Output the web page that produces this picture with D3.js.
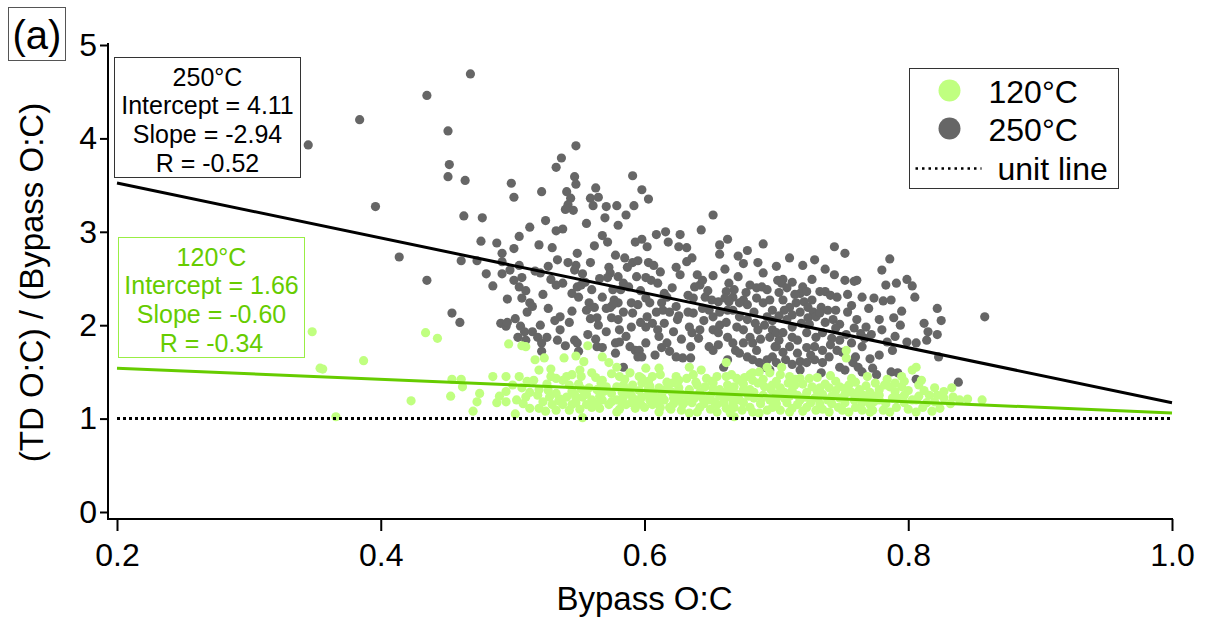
<!DOCTYPE html>
<html>
<head>
<meta charset="utf-8">
<script src="https://cdn.jsdelivr.net/npm/d3@7"></script>
<style>
  body { margin: 0; background: #fff; }
  text { font-family: "Liberation Sans", Arial, sans-serif; }
</style>
</head>
<body>
<div id="vis-container"></div>
<script>
// ticks
const xTicks = [0.2, 0.4, 0.6, 0.8, 1.0];
const yTicks = [0, 1, 2, 3, 4, 5];

// series names + fit results (as printed in the boxes)
const seriesNames = ["120°C", "250°C"];
const intercepts = [1.66, 4.11];
const slopes = [-0.60, -2.94];
const rValues = [-0.34, -0.52];
const unitValue = 1;

// 250°C points [bypass O:C, ratio]
const pts250 = [
  [0.468,4.69],[0.435,4.46],[0.384,4.20],[0.345,3.93],[0.451,4.08],[0.452,3.72],[0.451,3.59],[0.464,3.55],
  [0.396,3.27],[0.463,3.17],[0.414,2.73],[0.461,2.69],[0.473,2.69],[0.435,2.48],[0.454,2.13],[0.460,2.03],
  [0.548,3.92],[0.537,3.79],[0.533,3.69],[0.547,3.59],[0.548,3.51],[0.499,3.52],[0.501,3.37],[0.522,3.43],
  [0.541,3.43],[0.544,3.36],[0.542,3.29],[0.546,3.23],[0.540,3.24],[0.563,3.47],[0.559,3.36],[0.565,3.37],
  [0.561,3.28],[0.591,3.60],[0.598,3.45],[0.592,3.28],[0.571,3.27],[0.579,3.28],[0.570,3.15],[0.580,3.07],
  [0.477,3.15],[0.476,2.90],[0.533,3.01],[0.538,3.03],[0.556,3.09],[0.568,2.96],[0.572,2.89],[0.520,2.86],
  [0.530,2.83],[0.501,2.82],[0.492,2.77],[0.492,2.68],[0.498,2.59],[0.492,2.55],[0.480,2.55],[0.485,2.42],
  [0.496,2.28],[0.505,2.64],[0.501,2.48],[0.505,2.41],[0.507,2.51],[0.527,2.63],[0.521,2.56],[0.542,2.67],
  [0.548,2.64],[0.547,2.59],[0.533,2.43],[0.538,2.45],[0.523,2.33],[0.510,2.37],[0.513,2.24],[0.507,2.29],
  [0.511,2.14],[0.502,2.07],[0.491,2.02],[0.495,1.99],[0.496,2.03],[0.506,1.99],[0.509,1.93],[0.515,1.93],
  [0.521,2.00],[0.504,1.87],[0.510,1.84],[0.519,1.87],[0.526,1.87],[0.522,1.81],[0.522,1.72],[0.536,2.09],
  [0.543,2.03],[0.545,2.15],[0.545,2.34],[0.549,2.41],[0.550,2.30],[0.552,2.43],[0.559,2.67],[0.555,2.46],
  [0.560,2.38],[0.558,2.24],[0.556,2.16],[0.562,2.19],[0.547,1.84],[0.549,1.81],[0.550,1.72],[0.564,1.77],
  [0.568,1.76],[0.578,2.75],[0.573,2.62],[0.574,2.56],[0.580,2.52],[0.572,2.51],[0.593,2.89],[0.598,2.92],
  [0.602,2.84],[0.587,2.62],[0.591,2.67],[0.595,2.69],[0.584,2.45],[0.588,2.41],[0.582,2.38],[0.576,2.38],
  [0.577,2.27],[0.580,2.24],[0.571,2.18],[0.574,2.19],[0.576,2.22],[0.559,2.07],[0.564,2.08],[0.575,2.08],
  [0.580,2.06],[0.584,2.14],[0.581,1.95],[0.578,1.81],[0.581,1.82],[0.578,1.70],[0.584,1.55],[0.589,1.77],
  [0.593,1.73],[0.596,1.73],[0.595,1.66],[0.590,2.24],[0.591,2.13],[0.595,2.22],[0.601,2.29],[0.601,2.51],
  [0.605,2.48],[0.610,2.45],[0.603,2.67],[0.607,2.64],[0.609,2.97],[0.618,2.89],[0.627,2.97],[0.626,2.84],
  [0.632,2.83],[0.636,2.72],[0.632,2.68],[0.624,2.62],[0.627,2.54],[0.615,2.34],[0.613,2.24],[0.609,2.14],
  [0.614,2.16],[0.604,2.24],[0.602,2.09],[0.601,1.98],[0.606,2.02],[0.610,1.95],[0.615,2.02],[0.619,2.14],
  [0.613,1.76],[0.617,1.81],[0.601,1.81],[0.598,1.66],[0.624,1.66],[0.629,1.65],[0.635,1.65],[0.625,2.06],
  [0.634,1.98],[0.636,1.92],[0.633,2.14],[0.637,2.13],[0.638,2.41],[0.642,2.43],[0.644,2.48],[0.643,3.02],
  [0.652,3.18],[0.640,2.54],[0.633,2.32],[0.637,2.29],[0.646,2.30],[0.657,2.86],[0.657,2.76],[0.651,2.27],
  [0.656,2.25],[0.662,2.36],[0.661,2.29],[0.649,2.16],[0.652,2.09],[0.657,2.14],[0.663,2.16],[0.652,1.95],
  [0.656,1.92],[0.657,2.00],[0.662,2.03],[0.649,1.77],[0.652,1.73],[0.656,1.79],[0.660,1.55],[0.663,1.63],
  [0.669,1.73],[0.671,2.74],[0.675,2.66],[0.671,2.52],[0.680,2.43],[0.667,2.30],[0.675,2.27],[0.678,2.22],
  [0.672,2.24],[0.667,2.16],[0.672,2.09],[0.678,2.06],[0.670,1.98],[0.675,1.95],[0.680,1.87],[0.682,1.81],
  [0.675,1.81],[0.678,1.66],[0.682,1.63],[0.687,1.60],[0.691,1.55],[0.695,1.52],[0.686,2.67],[0.690,2.56],
  [0.690,2.87],[0.685,2.40],[0.689,2.41],[0.693,2.38],[0.685,2.29],[0.690,2.24],[0.695,2.27],[0.697,2.16],
  [0.693,2.09],[0.697,1.95],[0.695,1.87],[0.700,1.92],[0.699,1.77],[0.701,2.48],[0.697,1.66],[0.693,1.63],
  [0.700,1.60],
  [0.720,2.64],[0.737,2.60],[0.744,2.84],[0.752,2.77],[0.705,2.49],[0.712,2.46],[0.704,2.45],[0.727,2.49],
  [0.720,2.41],[0.718,2.34],[0.723,2.36],[0.733,2.36],[0.737,2.36],[0.741,2.32],[0.746,2.30],[0.754,2.33],
  [0.759,2.47],[0.761,2.48],[0.780,2.59],[0.786,2.71],[0.783,2.43],[0.791,2.45],[0.799,2.49],[0.803,2.42],
  [0.774,2.29],[0.781,2.26],[0.787,2.27],[0.705,2.27],[0.710,2.19],[0.715,2.24],[0.721,2.25],[0.727,2.27],
  [0.706,2.16],[0.712,2.11],[0.718,2.14],[0.724,2.19],[0.728,2.14],[0.734,2.19],[0.739,2.16],[0.745,2.16],
  [0.757,2.21],[0.754,2.14],[0.708,2.06],[0.712,1.98],[0.719,2.02],[0.724,2.08],[0.730,2.09],[0.737,2.03],
  [0.743,2.06],[0.748,2.01],[0.761,2.06],[0.759,1.97],[0.768,1.98],[0.778,2.06],[0.780,1.95],[0.705,1.92],
  [0.712,1.87],[0.716,1.84],[0.723,1.92],[0.730,1.87],[0.735,1.92],[0.742,1.86],[0.748,1.84],[0.700,1.77],
  [0.705,1.71],[0.710,1.77],[0.716,1.70],[0.723,1.76],[0.729,1.77],[0.735,1.73],[0.746,1.73],[0.750,1.71],
  [0.765,1.77],[0.778,1.68],[0.788,1.73],[0.799,1.82],[0.806,1.81],[0.812,2.02],[0.822,2.18],[0.825,2.05],
  [0.815,1.93],[0.822,1.90],[0.814,1.84],[0.823,1.66],[0.858,2.09],[0.718,1.61],[0.723,1.60],[0.729,1.63],
  [0.735,1.60],[0.718,1.52],[0.748,1.55],[0.752,1.52],[0.758,1.60],[0.762,1.55],[0.765,1.50],[0.773,1.54],
  [0.776,1.47],[0.787,1.50],[0.792,1.49],[0.806,1.42],[0.838,1.39],[0.734,1.49],
  [0.515,2.20],[0.527,2.18],[0.532,2.05],[0.536,1.95],[0.529,2.49],[0.517,2.58],[0.534,2.70],[0.549,2.77],
  [0.562,2.85],[0.553,2.55],[0.566,2.50],[0.568,2.30],[0.565,2.00],[0.571,1.93],[0.557,1.90],[0.563,1.85],
  [0.586,1.88],[0.590,1.98],[0.597,2.03],[0.597,2.37],[0.594,2.52],[0.585,2.72],[0.612,2.57],[0.617,2.30],
  [0.621,2.40],[0.624,2.20],[0.626,2.10],[0.622,1.93],[0.628,1.85],[0.619,1.72],[0.608,1.68],[0.635,1.77],
  [0.641,1.86],[0.645,2.05],[0.644,2.18],[0.648,2.37],[0.652,2.53],[0.661,2.60],[0.664,2.45],[0.668,2.38],
  [0.663,1.87],[0.667,1.81],[0.672,1.70],[0.685,1.73],[0.688,1.85],[0.686,1.95],[0.684,2.02],[0.683,2.14],
  [0.691,2.00],[0.697,2.05],[0.702,2.10],[0.702,2.35],[0.708,2.40],[0.714,2.33],[0.702,1.84],[0.707,1.63],
  [0.712,1.58],[0.726,1.68],[0.740,1.66],[0.741,1.79],[0.753,1.90],[0.757,1.81],[0.767,1.86],[0.772,1.90],
  [0.760,1.66],[0.771,1.64],[0.784,1.82],[0.790,1.88],[0.794,2.00],[0.770,2.18],[0.765,2.30],[0.795,2.15],
  [0.805,2.30],[0.752,2.48],[0.744,2.54],[0.729,2.70],[0.710,2.72],[0.700,2.63],[0.678,2.80],[0.663,2.92],
  [0.616,3.00],[0.586,3.18],[0.603,3.35],[0.525,3.12],[0.513,3.05],[0.505,2.95],[0.488,2.88],[0.540,1.78],
  [0.534,1.84],[0.611,1.88],[0.642,1.95],[0.664,2.25],[0.677,2.35],[0.725,2.01],[0.745,1.97],[0.733,2.13],
  [0.764,1.91],[0.789,2.08]
];

// 120°C points [bypass O:C, ratio]
const pts120 = [
  [0.348,1.93],[0.354,1.54],[0.356,1.53],[0.387,1.62],[0.366,1.02],[0.423,1.19],[0.434,1.92],[0.443,1.86],
  [0.454,1.42],[0.461,1.42],[0.462,1.34],[0.453,1.24],[0.475,1.27],[0.473,1.18],[0.470,1.08],
  [0.497,1.80],[0.507,1.78],[0.510,1.77],[0.517,1.63],[0.524,1.65],[0.539,1.65],[0.548,1.67],[0.557,1.78],
  [0.554,1.61],[0.568,1.66],[0.573,1.60],[0.579,1.55],[0.520,1.52],[0.529,1.53],[0.601,1.54],[0.611,1.54],
  [0.634,1.55],[0.643,1.52],[0.662,1.60],[0.687,1.50],[0.693,1.55],[0.704,1.55],[0.753,1.73],[0.753,1.65],
  [0.806,1.55],[0.803,1.52],[0.795,1.45],
  [0.485,1.45],[0.495,1.45],[0.505,1.45],[0.516,1.41],[0.529,1.45],[0.541,1.45],[0.551,1.52],[0.552,1.45],
  [0.560,1.49],[0.568,1.41],[0.581,1.45],[0.589,1.49],[0.596,1.45],[0.606,1.45],[0.598,1.43],[0.617,1.39],
  [0.621,1.38],[0.626,1.41],[0.632,1.43],[0.639,1.39],[0.647,1.43],[0.655,1.45],[0.662,1.45],[0.670,1.43],
  [0.680,1.47],[0.695,1.49],[0.703,1.47],[0.710,1.45],[0.718,1.43],[0.725,1.43],[0.672,1.41],[0.682,1.41],
  [0.682,1.49],
  [0.507,1.33],[0.513,1.28],[0.520,1.31],[0.533,1.27],[0.538,1.41],[0.543,1.36],[0.564,1.31],[0.571,1.34],
  [0.579,1.34],[0.586,1.31],[0.591,1.36],[0.598,1.38],[0.611,1.33],[0.634,1.31],[0.646,1.34],[0.657,1.31],
  [0.668,1.34],[0.680,1.31],[0.691,1.34],[0.703,1.33],[0.714,1.36],[0.727,1.34],[0.733,1.33],[0.740,1.33],
  [0.748,1.34],[0.755,1.36],[0.763,1.31],[0.771,1.28],[0.778,1.31],[0.786,1.34],[0.833,1.33],[0.606,1.28],
  [0.621,1.28],[0.642,1.28],[0.662,1.28],[0.683,1.28],[0.706,1.28],[0.723,1.28],
  [0.488,1.17],[0.495,1.18],[0.503,1.20],[0.528,1.23],[0.541,1.23],[0.548,1.22],[0.553,1.23],[0.560,1.20],
  [0.568,1.20],[0.579,1.20],[0.594,1.20],[0.598,1.23],[0.604,1.20],[0.615,1.20],[0.626,1.20],[0.638,1.22],
  [0.649,1.20],[0.661,1.22],[0.672,1.20],[0.683,1.22],[0.695,1.20],[0.706,1.22],[0.718,1.20],[0.729,1.22],
  [0.739,1.20],[0.748,1.22],[0.759,1.20],[0.769,1.22],[0.778,1.20],[0.788,1.22],[0.792,1.22],[0.806,1.20],
  [0.816,1.25],[0.822,1.25],[0.834,1.23],[0.839,1.20],[0.856,1.20],[0.803,1.20],[0.814,1.17],
  [0.513,1.11],[0.520,1.11],[0.530,1.15],[0.538,1.15],[0.545,1.15],[0.556,1.15],[0.573,1.15],[0.586,1.15],
  [0.600,1.12],[0.606,1.15],[0.619,1.12],[0.629,1.15],[0.642,1.12],[0.655,1.15],[0.668,1.12],[0.682,1.07],
  [0.693,1.09],[0.703,1.09],[0.712,1.11],[0.723,1.12],[0.730,1.09],[0.740,1.07],[0.750,1.09],[0.760,1.12],
  [0.771,1.15],[0.773,1.09],[0.781,1.09],[0.791,1.12],[0.811,1.12],[0.824,1.11],
  [0.502,1.05],[0.533,1.09],[0.543,1.09],[0.553,1.01],[0.579,1.07],[0.611,1.07],[0.634,1.06],[0.655,1.07],
  [0.665,1.06],[0.668,1.02],[0.687,1.06],[0.710,1.07],[0.755,1.07],[0.771,1.07],[0.806,1.07],
  [0.556,1.26],[0.575,1.27],[0.590,1.25],[0.613,1.25],[0.628,1.26],[0.650,1.25],[0.670,1.26],[0.690,1.25],
  [0.700,1.26],[0.716,1.25],[0.735,1.26],[0.752,1.26],[0.766,1.25],[0.745,1.40],[0.760,1.39],[0.775,1.38],
  [0.790,1.38],[0.800,1.30],[0.812,1.30],[0.783,1.16],[0.765,1.17],[0.733,1.16],[0.700,1.16],[0.660,1.17],
  [0.630,1.17],[0.590,1.17],[0.560,1.12],[0.620,1.10],[0.650,1.10],[0.680,1.12],
  [0.545,1.47],[0.563,1.44],[0.575,1.48],[0.585,1.42],[0.603,1.40],[0.612,1.47],[0.624,1.45],[0.637,1.47],
  [0.651,1.40],[0.666,1.47],[0.676,1.44],[0.690,1.42],[0.700,1.40],[0.714,1.42],[0.731,1.44],[0.741,1.46],
  [0.757,1.43],[0.769,1.45],[0.784,1.42],[0.797,1.40],[0.810,1.41],[0.533,1.43],[0.511,1.40],
  [0.500,1.36],[0.526,1.37],[0.550,1.37],[0.558,1.33],[0.567,1.38],[0.584,1.36],[0.604,1.35],[0.618,1.35],
  [0.626,1.33],[0.640,1.36],[0.652,1.38],[0.663,1.36],[0.675,1.37],[0.686,1.38],[0.697,1.36],[0.709,1.38],
  [0.720,1.37],[0.737,1.37],[0.752,1.32],[0.768,1.35],[0.782,1.36],[0.795,1.34],[0.808,1.36],[0.820,1.33],
  [0.827,1.29],
  [0.495,1.29],[0.527,1.30],[0.545,1.29],[0.552,1.32],[0.569,1.29],[0.583,1.28],[0.596,1.30],[0.603,1.32],
  [0.616,1.31],[0.626,1.29],[0.652,1.32],[0.667,1.29],[0.675,1.31],[0.696,1.31],[0.712,1.30],[0.731,1.29],
  [0.745,1.30],[0.757,1.28],[0.790,1.29],[0.778,1.25],
  [0.490,1.24],[0.510,1.23],[0.519,1.25],[0.536,1.21],[0.547,1.26],[0.566,1.24],[0.584,1.23],[0.603,1.26],
  [0.609,1.23],[0.622,1.22],[0.633,1.24],[0.644,1.22],[0.657,1.24],[0.666,1.22],[0.679,1.24],[0.689,1.22],
  [0.700,1.22],[0.710,1.24],[0.722,1.23],[0.742,1.24],[0.760,1.23],[0.775,1.24],[0.797,1.25],[0.808,1.24],
  [0.827,1.22],[0.845,1.21],
  [0.508,1.16],[0.523,1.18],[0.535,1.19],[0.548,1.17],[0.564,1.16],[0.575,1.18],[0.583,1.16],[0.597,1.16],
  [0.610,1.18],[0.622,1.16],[0.636,1.17],[0.645,1.16],[0.653,1.18],[0.667,1.16],[0.675,1.17],[0.688,1.16],
  [0.708,1.17],[0.716,1.15],[0.726,1.17],[0.742,1.16],[0.752,1.17],[0.774,1.18],[0.797,1.17],[0.820,1.18],
  [0.832,1.16],
  [0.525,1.08],[0.551,1.10],[0.566,1.11],[0.581,1.10],[0.593,1.11],[0.612,1.12],[0.628,1.09],[0.640,1.07],
  [0.662,1.11],[0.674,1.09],[0.697,1.12],[0.720,1.08],[0.735,1.10],[0.747,1.12],[0.765,1.09],[0.786,1.07],
  [0.800,1.10],[0.818,1.08]
];

const colGray = "#666666";
const colLight = "#c0ff80";
const colGreen = "#66cc00";

//D3 margin convention
let margin = {top:45, right:33, bottom:109, left:117};
let width = 1205 - margin.left - margin.right;
let height = 621 - margin.top - margin.bottom;

let svg = d3.select("#vis-container")
  .append("svg")
  .attr("width", width + margin.left + margin.right)
  .attr("height", height + margin.top + margin.bottom)
  .style("background", "#fff");

let g = svg.append("g")
  .attr("transform", `translate(${margin.left}, ${margin.top})`);

let x = d3.scaleLinear().domain([0.2, 1.0]).range([0, width]);
let y = d3.scaleLinear().domain([0, 5]).range([height, 0]);

// axes sit a little off the plot (offset axes)
let yOff = 9, xOff = 7;

let leftAxis = d3.axisLeft(y)
  .tickValues(yTicks)
  .tickSize(8)
  .tickPadding(3)
  .tickFormat(d3.format("d"));

let gy = g.append("g")
  .attr("class", "left axis")
  .attr("transform", `translate(${-yOff},0)`)
  .call(leftAxis);
gy.select(".domain").remove();
gy.append("line")
  .attr("x1", 0).attr("x2", 0)
  .attr("y1", y(5) - 2).attr("y2", height + xOff + 1)
  .attr("stroke", "black").attr("stroke-width", 2);

let bottomAxis = d3.axisBottom(x)
  .tickValues(xTicks)
  .tickSize(12)
  .tickPadding(12)
  .tickFormat(d3.format(".1f"));

let gx = g.append("g")
  .attr("class", "bottom axis")
  .attr("transform", `translate(0,${height + xOff})`)
  .call(bottomAxis);
gx.select(".domain").remove();
gx.append("line")
  .attr("x1", -yOff - 1).attr("x2", x(1.0) + 1)
  .attr("y1", 0).attr("y2", 0)
  .attr("stroke", "black").attr("stroke-width", 2);

svg.selectAll(".axis .tick line").attr("stroke", "black").attr("stroke-width", 2);
svg.selectAll(".axis text")
  .attr("font-size", "32px")
  .attr("fill", "black")
  .style("font-family", "'Liberation Sans', Arial, sans-serif");

// axis titles
g.append("text")
  .attr("x", x(0.6))
  .attr("y", height + 98)
  .attr("font-size", "33px")
  .attr("text-anchor", "middle")
  .text("Bypass O:C");

g.append("text")
  .attr("transform", `translate(${43 - margin.left}, ${y(2.5) + 4}) rotate(-90)`)
  .attr("font-size", "33px")
  .attr("text-anchor", "middle")
  .text("(TD O:C) / (Bypass O:C)");

// points
g.append("g").selectAll("circle")
  .data(pts250)
  .enter().append("circle")
  .attr("cx", d => x(d[0]))
  .attr("cy", d => y(d[1]))
  .attr("r", 4.6)
  .attr("fill", colGray);

g.append("g").selectAll("circle")
  .data(pts120)
  .enter().append("circle")
  .attr("cx", d => x(d[0]))
  .attr("cy", d => y(d[1]))
  .attr("r", 4.6)
  .attr("fill", colLight);

// fit lines
let fitLine = d3.line().x(d => x(d[0])).y(d => y(d[1]));
let fitColors = [colGreen, "black"];
[1, 0].forEach(i => {
  let pts = x.domain().map(v => [v, intercepts[i] + slopes[i] * v]);
  g.append("path")
    .attr("d", fitLine(pts))
    .attr("fill", "none")
    .attr("stroke", fitColors[i])
    .attr("stroke-width", 3);
});

// unit line
g.append("path")
  .attr("d", fitLine(x.domain().map(v => [v, unitValue])))
  .attr("fill", "none")
  .attr("stroke", "black")
  .attr("stroke-width", 3)
  .attr("stroke-dasharray", "3,3");

// fit annotation boxes
function fitBox(i, bx, by, stroke, color) {
  let box = svg.append("g").attr("transform", `translate(${bx},${by})`);
  box.append("rect")
    .attr("width", 186).attr("height", 120)
    .attr("fill", "white").attr("stroke", stroke).attr("stroke-width", 1);
  let lines = [seriesNames[i],
    `Intercept = ${intercepts[i].toFixed(2)}`,
    `Slope = ${slopes[i].toFixed(2)}`,
    `R = ${rValues[i].toFixed(2)}`];
  box.selectAll("text").data(lines).enter().append("text")
    .attr("x", 93)
    .attr("y", (d, k) => 28 + k * 28.7)
    .attr("text-anchor", "middle")
    .attr("font-size", "25px")
    .attr("fill", color)
    .text(d => d);
}
fitBox(1, 114.5, 57.5, "#333", "black");
fitBox(0, 118.5, 237.5, "#99ee44", colGreen);

// legend
let lg = svg.append("g").attr("transform", "translate(909.5,68.5)");
lg.append("rect")
  .attr("width", 209).attr("height", 120)
  .attr("fill", "white").attr("stroke", "#333").attr("stroke-width", 1);
[colLight, colGray].forEach((c, i) => {
  lg.append("circle").attr("cx", 40).attr("cy", 22 + i * 38).attr("r", 11).attr("fill", c);
  lg.append("text").attr("x", 79).attr("y", 34 + i * 38)
    .attr("font-size", "32px").text(seriesNames[i]);
});
lg.append("line")
  .attr("x1", 6).attr("x2", 72).attr("y1", 100).attr("y2", 100)
  .attr("stroke", "black").attr("stroke-width", 2.5).attr("stroke-dasharray", "2.5,4");
lg.append("text").attr("x", 88).attr("y", 111)
  .attr("font-size", "32px").text("unit line");

// panel tag
let tag = svg.append("g").attr("transform", "translate(8.5,7.5)");
tag.append("rect").attr("width", 57).attr("height", 53)
  .attr("fill", "white").attr("stroke", "#555").attr("stroke-width", 1);
tag.append("text").attr("x", 28.5).attr("y", 41)
  .attr("text-anchor", "middle").attr("font-size", "40px").text("(a)");
</script>
</body>
</html>
